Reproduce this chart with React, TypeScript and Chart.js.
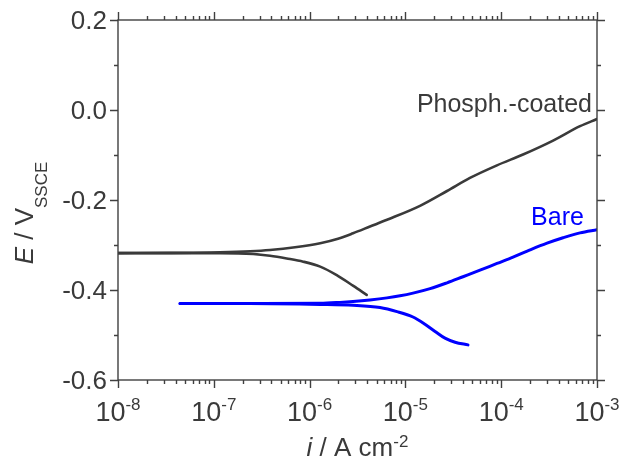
import React, { useEffect, useRef } from "react";
import { Chart, registerables } from "chart.js";

Chart.register(...registerables);

// ---- data (i in A cm^-2, E in V vs SSCE) ----
const phosphAnodicI = [1e-8, 3.49e-8, 1.16e-7, 2.39e-7, 3.86e-7, 7.05e-7, 1.29e-6, 1.98e-6, 2.84e-6, 4.27e-6, 6.43e-6, 1.42e-5, 2.72e-5, 4.72e-5, 9.03e-5, 1.69e-4, 3.48e-4, 6.65e-4, 1e-3];
const phosphAnodicE = [-0.318, -0.3175, -0.316, -0.3138, -0.311, -0.305, -0.296, -0.286, -0.274, -0.259, -0.244, -0.213, -0.180, -0.151, -0.123, -0.099, -0.068, -0.036, -0.020];

const phosphCathodicI = [1e-8, 1.16e-7, 2.58e-7, 3.86e-7, 5.77e-7, 8.59e-7, 1.29e-6, 1.92e-6, 2.86e-6, 3.94e-6];
const phosphCathodicE = [-0.318, -0.318, -0.320, -0.324, -0.330, -0.337, -0.348, -0.367, -0.391, -0.411];

const bareAnodicI = [4.44e-8, 2.39e-7, 1.29e-6, 2.07e-6, 2.84e-6, 4.27e-6, 6.43e-6, 8.79e-6, 1.2e-5, 1.81e-5, 2.72e-5, 3.99e-5, 6.01e-5, 9.04e-5, 1.33e-4, 2.0e-4, 3.01e-4, 4.42e-4, 6.65e-4, 1e-3];
const bareAnodicE = [-0.430, -0.430, -0.4295, -0.4275, -0.4255, -0.422, -0.4175, -0.413, -0.407, -0.397, -0.384, -0.3705, -0.356, -0.341, -0.327, -0.311, -0.296, -0.284, -0.273, -0.266];

const bareCathodicI = [4.44e-8, 2.39e-7, 1.29e-6, 2.84e-6, 5.43e-6, 8.17e-6, 1.2e-5, 1.6e-5, 2.04e-5, 2.59e-5, 3.3e-5, 4.5e-5];
const bareCathodicE = [-0.430, -0.430, -0.432, -0.434, -0.439, -0.448, -0.460, -0.476, -0.492, -0.507, -0.516, -0.522];

// ---- axes ----
const xMin = 1e-8;
const xMax = 1e-3;
const yMin = -0.6;
const yMax = 0.2;
const xDecades = [-8, -7, -6, -5, -4, -3];
const xTickExponents = ["-8", "-7", "-6", "-5", "-4", "-3"];
const yMajorTicks = [-0.6, -0.4, -0.2, 0, 0.2];
const yTickLabels = ["-0.6", "-0.4", "-0.2", "0.0", "0.2"];
const yMinorTicks = [-0.5, -0.3, -0.1, 0.1];

// ---- annotations ----
const seriesLabels = ["Phosph.-coated", "Bare"];
const seriesLabelI = [8.87e-4, 7.3e-4];
const seriesLabelE = [-0.004, -0.2556];

const GRAY = "#3a3a3a";
const BLUE = "#0000ff";
const AXIS = "#404040";
const TEXT = "#3a3a3a";
const FONT = "'Liberation Sans', Arial, sans-serif";

const toXY = (xs: number[], ys: number[]) => xs.map((x, i) => ({ x, y: ys[i] }));

const framePlugin = {
  id: "frame",
  afterDatasetsDraw(chart: any) {
    const { ctx, chartArea: a, scales } = chart;
    const xs = scales.x;
    const ys = scales.y;
    ctx.save();
    ctx.strokeStyle = AXIS;
    ctx.lineWidth = 1.4;
    ctx.strokeRect(a.left, a.top, a.right - a.left, a.bottom - a.top);

    ctx.beginPath();
    for (const d of xDecades) {
      for (let m = 1; m <= 9; m++) {
        const v = m * Math.pow(10, d);
        if (v > xMax * 1.0001) break;
        const px = Math.round(xs.getPixelForValue(v)) + 0.5;
        const len = m === 1 ? 8 : 4;
        ctx.moveTo(px, a.bottom);
        ctx.lineTo(px, a.bottom + len);
        ctx.moveTo(px, a.top);
        ctx.lineTo(px, a.top - len);
      }
    }
    const yTick = (v: number, len: number) => {
      const py = Math.round(ys.getPixelForValue(v)) + 0.5;
      ctx.moveTo(a.left, py);
      ctx.lineTo(a.left - len, py);
      ctx.moveTo(a.right, py);
      ctx.lineTo(a.right + len, py);
    };
    yMajorTicks.forEach((v) => yTick(v, 8));
    yMinorTicks.forEach((v) => yTick(v, 4));
    ctx.stroke();

    ctx.fillStyle = TEXT;
    ctx.font = `26px ${FONT}`;
    ctx.textAlign = "right";
    ctx.textBaseline = "alphabetic";
    yMajorTicks.forEach((v, i) => {
      const py = ys.getPixelForValue(v);
      ctx.fillText(yTickLabels[i], a.left - 11, py + 9);
    });

    ctx.textAlign = "left";
    xDecades.forEach((d, i) => {
      const px = xs.getPixelForValue(Math.pow(10, d));
      ctx.font = `27px ${FONT}`;
      const wBase = ctx.measureText("10").width;
      ctx.font = `17px ${FONT}`;
      const wSup = ctx.measureText(xTickExponents[i]).width;
      const start = px - (wBase + wSup) / 2;
      ctx.font = `27px ${FONT}`;
      ctx.fillText("10", start, a.bottom + 41);
      ctx.font = `17px ${FONT}`;
      ctx.fillText(xTickExponents[i], start + wBase, a.bottom + 30);
    });

    {
      ctx.font = `italic 26px ${FONT}`;
      const wI = ctx.measureText("i").width;
      ctx.font = `26px ${FONT}`;
      const wMid = ctx.measureText(" / A cm").width;
      ctx.font = `17px ${FONT}`;
      const wSup = ctx.measureText("-2").width;
      const total = wI + wMid + wSup;
      const cx = (a.left + a.right) / 2;
      let x = cx - total / 2;
      const base = a.bottom + 76;
      ctx.font = `italic 26px ${FONT}`;
      ctx.fillText("i", x, base);
      x += wI;
      ctx.font = `26px ${FONT}`;
      ctx.fillText(" / A cm", x, base);
      x += wMid;
      ctx.font = `17px ${FONT}`;
      ctx.fillText("-2", x, base - 9);
    }

    {
      ctx.save();
      ctx.font = `italic 26px ${FONT}`;
      const wE = ctx.measureText("E").width;
      ctx.font = `26px ${FONT}`;
      const wMid = ctx.measureText(" / V").width;
      ctx.font = `17px ${FONT}`;
      const wSub = ctx.measureText("SSCE").width;
      const total = wE + wMid + wSub;
      const cy = (a.top + a.bottom) / 2 + 13;
      ctx.translate(33, cy + total / 2);
      ctx.rotate(-Math.PI / 2);
      let x = 0;
      ctx.font = `italic 26px ${FONT}`;
      ctx.fillText("E", x, 0);
      x += wE;
      ctx.font = `26px ${FONT}`;
      ctx.fillText(" / V", x, 0);
      x += wMid;
      ctx.font = `17px ${FONT}`;
      ctx.fillText("SSCE", x, 14);
      ctx.restore();
    }

    ctx.font = `25px ${FONT}`;
    ctx.textAlign = "right";
    const colors = [TEXT, BLUE];
    seriesLabels.forEach((t, i) => {
      ctx.fillStyle = colors[i];
      ctx.fillText(t, xs.getPixelForValue(seriesLabelI[i]), ys.getPixelForValue(seriesLabelE[i]));
    });
    ctx.restore();
  },
};

export default function App() {
  const ref = useRef<HTMLCanvasElement | null>(null);
  useEffect(() => {
    if (!ref.current) return;
    const line = (label: string, xs: number[], ys: number[], color: string, width: number) => ({
      label,
      data: toXY(xs, ys),
      showLine: true,
      borderColor: color,
      backgroundColor: color,
      borderWidth: width,
      pointRadius: 0,
      cubicInterpolationMode: "monotone" as const,
      borderCapStyle: "round" as const,
      borderJoinStyle: "round" as const,
      fill: false,
    });
    const chart = new Chart(ref.current, {
      type: "scatter",
      data: {
        datasets: [
          line("Phosph. anodic", phosphAnodicI, phosphAnodicE, GRAY, 2.6),
          line("Phosph. cathodic", phosphCathodicI, phosphCathodicE, GRAY, 2.6),
          line("Bare anodic", bareAnodicI, bareAnodicE, BLUE, 3),
          line("Bare cathodic", bareCathodicI, bareCathodicE, BLUE, 3),
        ],
      },
      options: {
        animation: false,
        responsive: false,
        events: [],
        layout: { padding: { left: 118, top: 20, right: 35, bottom: 82 } },
        plugins: { legend: { display: false }, tooltip: { enabled: false } },
        scales: {
          x: { type: "logarithmic", min: xMin, max: xMax, display: false },
          y: { type: "linear", min: yMin, max: yMax, display: false },
        },
      },
      plugins: [framePlugin],
    });
    return () => chart.destroy();
  }, []);
  return (
    <div style={{ position: "fixed", left: 0, top: 0, width: 632, height: 462, background: "#fff" }}>
      <canvas ref={ref} width={632} height={462} style={{ display: "block" }} />
    </div>
  );
}
